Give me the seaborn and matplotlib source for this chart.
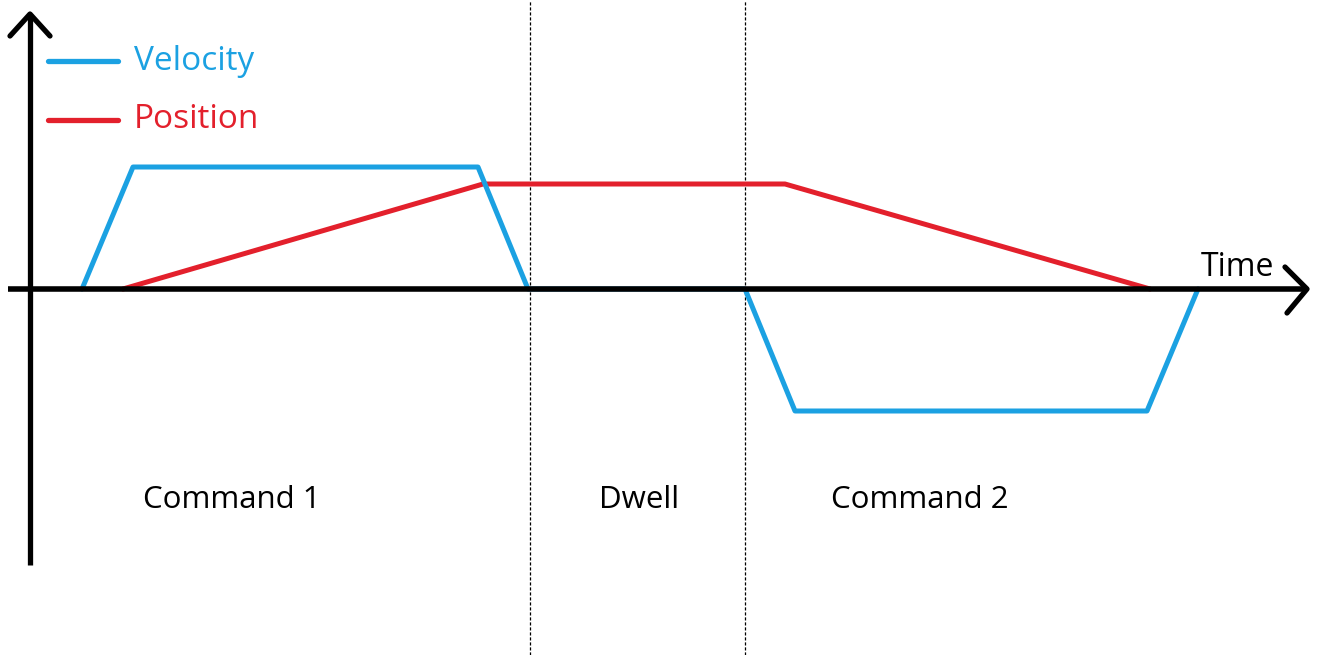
import matplotlib
matplotlib.use('Agg')
import matplotlib.pyplot as plt
import pandas as pd
import seaborn as sns

# motion profile (time units ~ pixels, origin at the axes cross)
vel_t = [82, 133, 478, 528, 745, 795, 1147, 1198]
vel_v = [0, 122, 122, 0, 0, -122, -122, 0]
pos_t = [123, 483, 785, 1150]
pos_p = [0, 105, 105, 0]
phase_edges = [530, 745]
phase_names = ['Command 1', 'Dwell', 'Command 2']
phase_x = [232, 639, 920]
legend_names = ['Velocity', 'Position']

blue = '#1ba1e2'
red = '#e3202c'

vel_df = pd.DataFrame({'t': vel_t, 'v': vel_v})
pos_df = pd.DataFrame({'t': pos_t, 'p': pos_p})

sns.set_style('white')
plt.rcParams['font.family'] = ['Open Sans', 'DejaVu Sans']

fig = plt.figure(figsize=(13.17, 6.55), dpi=100)
ax = fig.add_axes([0, 0, 1, 1])
ax.set_xlim(0, 1317)
ax.set_ylim(-366, 289)
ax.axis('off')

# phase separators
for x in phase_edges:
    ax.axvline(x, color='black', lw=0.9, ls=(0, (2.5, 1.5)), zorder=1)

# profiles
sns.lineplot(data=pos_df, x='t', y='p', sort=False, estimator=None, color=red,
             lw=3.6, ax=ax, zorder=3)
sns.lineplot(data=vel_df, x='t', y='v', sort=False, estimator=None, color=blue,
             lw=3.6, ax=ax, zorder=4)
ax.set_xlabel('')
ax.set_ylabel('')

# axes with chevron arrows, drawn over the profiles
x0, x1 = 8, 1307
y0, y1 = -276, 275
ax.plot([x0, x1], [0, 0], color='black', lw=4.0, solid_capstyle='butt', zorder=5)
ax.plot([30, 30], [y0, y1], color='black', lw=3.8, solid_capstyle='butt', zorder=5)
ax.plot([x1 - 22, x1, x1 - 20], [22, 0, -24], color='black', lw=3.8, zorder=5)
ax.plot([10, 30, 50], [y1 - 22, y1, y1 - 22], color='black', lw=3.8, zorder=5)

# hand drawn legend
for name, col, y in zip(legend_names, [blue, red], [228, 169]):
    ax.plot([48, 118], [y, y], color=col, lw=3.8, solid_capstyle='round')
    ax.text(134, y, name, color=col, fontsize=24, va='center', ha='left')

ax.text(1237, 21, 'Time', color='black', fontsize=23, va='center', ha='center')
for name, x in zip(phase_names, phase_x):
    ax.text(x, -211, name, color='black', fontsize=22.5, va='center', ha='center')

fig.savefig('out.png', dpi=100)
